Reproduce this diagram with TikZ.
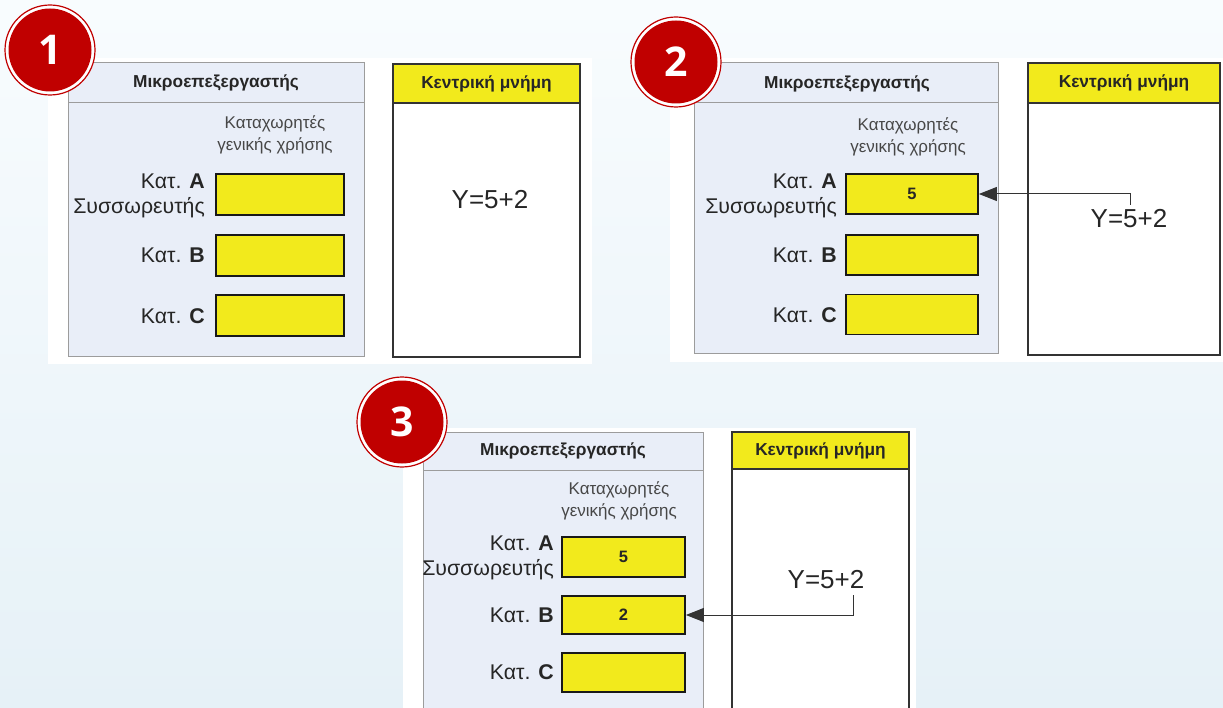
\documentclass[tikz,border=0pt]{standalone}
\usepackage{fontspec}
\setmainfont{Liberation Sans}
\newfontfamily\badgefont{Open Sans}
\usetikzlibrary{arrows.meta,calc}
\definecolor{bgtop}{HTML}{F8FCFE}
\definecolor{bgbot}{HTML}{E6F1F7}
\definecolor{procfill}{HTML}{E9EEF8}
\definecolor{procline}{HTML}{9C9C9C}
\definecolor{regyellow}{HTML}{F2EA1C}
\definecolor{badgered}{HTML}{C00000}
\definecolor{txt}{HTML}{262626}
\definecolor{memline}{HTML}{333333}
\tikzset{
  backdrop/.style={fill=white},
  procbox/.style={fill=procfill,draw=procline,line width=1pt},
  membox/.style={fill=white,draw=memline,line width=1.5pt},
  memhead/.style={fill=regyellow,draw=memline,line width=1.5pt},
  regbox/.style={draw=black!90,fill=regyellow,line width=1.8pt,minimum height=40pt,inner sep=0pt,
    font=\fontsize{16.5}{18}\selectfont\bfseries,text=txt},
  headtext/.style={font=\fontsize{17.3}{19}\selectfont\bfseries,text=txt,inner sep=0pt},
  gentext/.style={font=\fontsize{17}{21.5}\selectfont,text=txt!85,align=center,inner sep=0pt},
  lbl/.style={font=\fontsize{21.3}{25}\selectfont,text=txt,align=right,anchor=east,inner sep=0pt},
  eqtext/.style={font=\fontsize{26}{30}\selectfont,text=txt,inner sep=0pt},
  conn/.style={draw=memline,line width=1pt,-{Triangle[length=18pt,width=14pt]}},
  badgenum/.style={font=\badgefont\fontsize{41}{41}\selectfont\bfseries,text=white,inner sep=0pt}
}
\newcommand{\mybadge}[3]{%
  \fill[white] (#1) circle (45.5);
  \draw[badgered,line width=1.2pt] (#1) circle (45);
  \fill[badgered] (#1) circle (41.5);
  \node[badgenum] (#3) at (#1) {#2};
}
\begin{document}
\begin{tikzpicture}[x=1pt,y=-1pt]
\useasboundingbox (0,0) rectangle (1223,708);
\clip (0,0) rectangle (1223,708);
\shade[top color=bgtop,bottom color=bgbot] (0,0) rectangle (1223,708);

% ---------------- Panel 1 ----------------
\fill[backdrop] (48,58) rectangle (592,364);
\draw[procbox] (68,63) rectangle (364,357);
\draw[procline,line width=1pt] (68,103) -- (364,103);
\node[headtext] (h1) at (216,83) {Μικροεπεξεργαστής};
\node[gentext] (g1) at (275,135) {Καταχωρητές\\γενικής χρήσης};
\node[regbox,minimum width=128pt,minimum height=41pt] (r1a) at (280,194.5) {};
\node[regbox,minimum width=128pt,minimum height=41pt] (r1b) at (280,255.5) {};
\node[regbox,minimum width=128pt,minimum height=41pt] (r1c) at (280,315.5) {};
\node[lbl] (l1a) at (205,195.5) {Κατ. \textbf{A}\\Συσσωρευτής};
\node[lbl] (l1b) at (205,255) {Κατ. \textbf{B}};
\node[lbl] (l1c) at (205,316) {Κατ. \textbf{C}};
\draw[membox] (393,64) rectangle (580,357);
\draw[memhead] (393,64) rectangle (580,103);
\node[headtext] (m1) at (486.5,83.5) {Κεντρική μνήμη};
\node[eqtext] (y1) at (490,200) {Y=5+2};
\mybadge{50,50}{1}{b1}

% ---------------- Panel 2 ----------------
\fill[backdrop] (670,58) rectangle (1223,362);
\draw[procbox] (694,63) rectangle (998,354);
\draw[procline,line width=1pt] (694,103) -- (998,103);
\node[headtext] (h2) at (847,84) {Μικροεπεξεργαστής};
\node[gentext] (g2) at (908,137) {Καταχωρητές\\γενικής χρήσης};
\node[regbox,minimum width=132pt] (r2a) at (912,194) {5};
\node[regbox,minimum width=132pt] (r2b) at (912,255) {};
\node[regbox,minimum width=132pt] (r2c) at (912,314.5) {};
\node[lbl] (l2a) at (837,195.5) {Κατ. \textbf{A}\\Συσσωρευτής};
\node[lbl] (l2b) at (837,255) {Κατ. \textbf{B}};
\node[lbl] (l2c) at (837,315) {Κατ. \textbf{C}};
\draw[membox] (1028,63) rectangle (1220,355);
\draw[memhead] (1028,63) rectangle (1220,103);
\node[headtext] (m2) at (1124,83) {Κεντρική μνήμη};
\node[eqtext] (y2) at (1129,219) {Y=5+2};
\coordinate (s2) at (1130,205);
\draw[conn] (s2) |- (r2a.east);
\mybadge{676,62}{2}{b2}

% ---------------- Panel 3 ----------------
\fill[backdrop] (403,428) rectangle (916,712);
\draw[procbox] (423,432) rectangle (703,720);
\draw[procline,line width=1pt] (423,470) -- (703,470);
\node[headtext] (h3) at (563,451) {Μικροεπεξεργαστής};
\node[gentext] (g3) at (619,501) {Καταχωρητές\\γενικής χρήσης};
\node[regbox,minimum width=123pt] (r3a) at (623.5,557) {5};
\node[regbox,minimum width=123pt,minimum height=38pt] (r3b) at (623.5,615) {2};
\node[regbox,minimum width=123pt,minimum height=39pt] (r3c) at (623.5,672.5) {};
\node[lbl] (l3a) at (554,558) {Κατ. \textbf{A}\\Συσσωρευτής};
\node[lbl] (l3b) at (554,615) {Κατ. \textbf{B}};
\node[lbl] (l3c) at (554,672) {Κατ. \textbf{C}};
\draw[membox] (732,432) rectangle (909,720);
\draw[memhead] (732,432) rectangle (909,469);
\node[headtext] (m3) at (820.5,450.5) {Κεντρική μνήμη};
\node[eqtext] (y3) at (826,580) {Y=5+2};
\coordinate (s3) at (853,595);
\draw[conn] (s3) |- (r3b.east);
\mybadge{402,422}{3}{b3}
\end{tikzpicture}
\end{document}
